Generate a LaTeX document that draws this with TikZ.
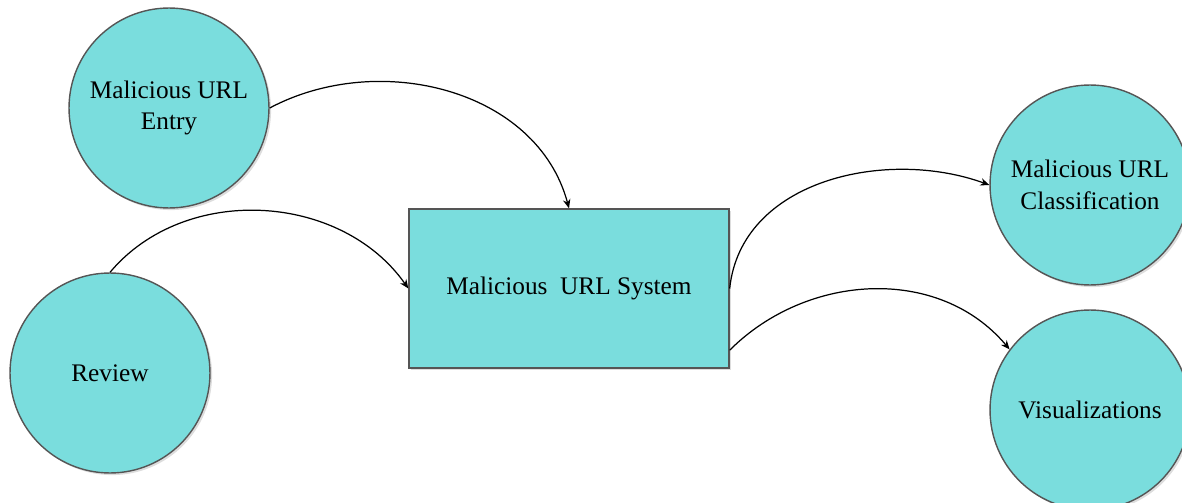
\documentclass[tikz,border=0pt]{standalone}
\usepackage{fontspec}
\setmainfont{Liberation Serif}
\usetikzlibrary{arrows.meta,positioning,shadows}
\definecolor{bubblefill}{HTML}{7ADDDD}
\definecolor{bubbleline}{HTML}{555555}
\tikzset{
  vbubble/.style={circle,draw=bubbleline,fill=bubblefill,line width=0.8pt,minimum size=4cm,inner sep=0pt,align=center,
    drop shadow={shadow xshift=1.2pt,shadow yshift=-1.2pt,fill=gray!45,opacity=0.6}},
  vsys/.style={rectangle,draw=bubbleline,fill=bubblefill,line width=0.8pt,minimum width=6.4cm,minimum height=3.18cm,inner sep=0pt,
    drop shadow={shadow xshift=1.2pt,shadow yshift=-1.2pt,fill=gray!45,opacity=0.6}},
  vflow/.style={-{Stealth[length=1.8mm,width=1.5mm]},line width=0.7pt,draw=black}
}

\begin{document}
\begin{tikzpicture}[x=0.02cm,y=-0.02cm,font=\fontsize{14.4}{18}\selectfont]
  \useasboundingbox (0,0) rectangle (1182,503);
  \node[vbubble] (entry) at (169,108) {Malicious URL\\ Entry};
  \node[vbubble] (review) at (110,373) {Review};
  \node[vsys] (sys) at (569,288.5) {Malicious\ \ URL System};
  \node[vbubble] (class) at (1090,185) {Malicious URL\\ Classification};
  \node[vbubble] (vis) at (1090,410) {Visualizations};
  \draw[vflow] (entry.east) to[out=28,in=105] (sys.north);
  \draw[vflow] (review.north) to[out=50,in=125] (sys.west);
  \draw[vflow] (sys.east) to[out=84,in=160] (class.west);
  \draw[vflow] (sys.-21) to[out=45,in=130] (vis.143);
\end{tikzpicture}
\end{document}
